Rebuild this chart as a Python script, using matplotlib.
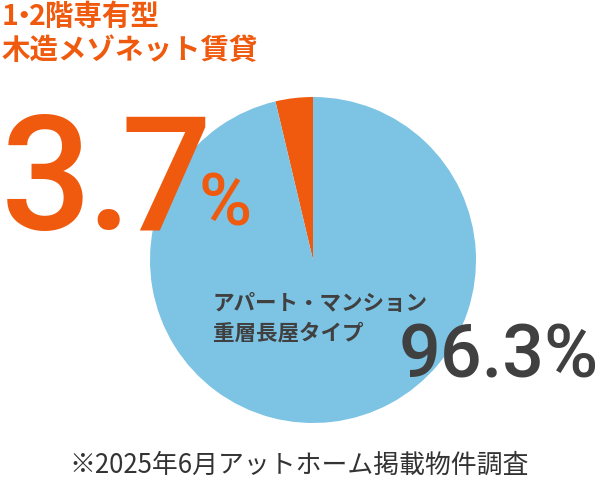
import matplotlib
matplotlib.use("Agg")
import matplotlib.pyplot as plt

# ----- data -----
labels = ["アパート・マンション\n重層長屋タイプ", "1・2階専有型\n木造メゾネット賃貸"]
shares = [96.3, 3.7]
colors = ["#7CC3E4", "#F05A0F"]
footnote = "※2025年6月アットホーム掲載物件調査"

plt.rcParams['font.family'] = ['Noto Sans CJK JP', 'DejaVu Sans']

W, H = 600, 482
fig = plt.figure(figsize=(W / 100, H / 100), dpi=100)


def px(x, y):
    # pixel coords (top-left origin) -> figure fraction
    return x / W, 1 - y / H


# pie: centre (313, 260), radius 163 px
cx, cy, r = 313, 260, 163
ax = fig.add_axes([(cx - r) / W, (H - cy - r) / H, 2 * r / W, 2 * r / H])
ax.pie([shares[1], shares[0]], colors=[colors[1], colors[0]], startangle=90,
       counterclock=True, radius=1,
       wedgeprops=dict(linewidth=0))
ax.set_xlim(-1, 1)
ax.set_ylim(-1, 1)
ax.set_aspect("equal")
ax.axis("off")

orange = colors[1]
dark = "#404040"
num_font = ["Roboto", "DejaVu Sans"]

# title (small share): tighten the middle dot of "1・2"
t1, t2 = labels[1].split("\n")
head, dot, rest = t1.partition("・")
tkw = dict(color=orange, fontsize=20.5, fontweight="bold", va="center", ha="left")
fig.text(*px(2, 17), head, **tkw)
fig.text(*px(9, 17), dot, **tkw)
fig.text(*px(29, 17), rest, **tkw)
fig.text(*px(2, 51), t2, **tkw)

# big 3.7 % (characters set tight like the reference)
big = f"{shares[1]:.1f}"
bkw = dict(color=orange, fontsize=115, family=num_font, fontweight="medium",
           va="baseline", ha="left")
for ch, x in zip(big, [1, 86, 121]):
    fig.text(*px(x, 229), ch, **bkw)
fig.text(*px(199, 225), "%", color=orange, fontsize=52, family=num_font,
         fontweight="medium", va="baseline", ha="left")

# label (large share)
l1, l2 = labels[0].split("\n")
fig.text(*px(213, 303), l1, color=dark, fontsize=15.5, fontweight="bold",
         va="center", ha="left")
fig.text(*px(213, 333), l2, color=dark, fontsize=15.5, fontweight="bold",
         va="center", ha="left")
fig.text(*px(599, 377), f"{shares[0]:.1f}%", color=dark, fontsize=53,
         family=num_font, fontweight="medium", va="baseline", ha="right")

# footnote
fig.text(*px(299, 465), footnote, color="#333333", fontsize=18.6,
         va="center", ha="center")

fig.savefig("out.png", dpi=100)
